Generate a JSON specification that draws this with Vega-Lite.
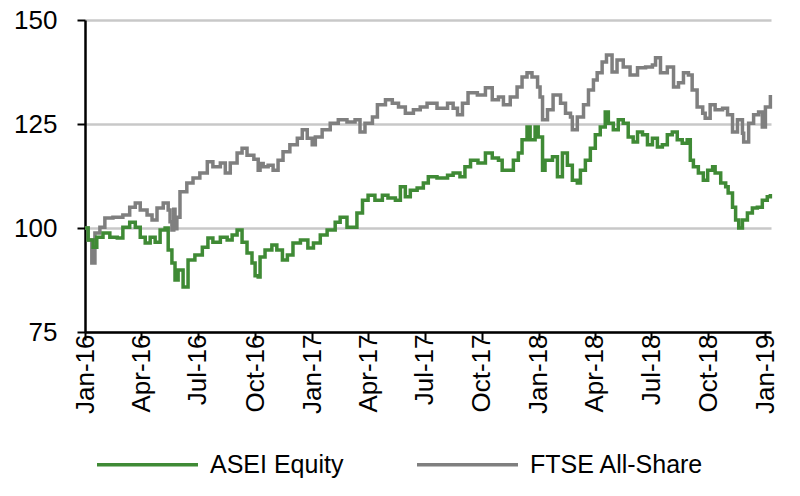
{
  "$schema": "https://vega.github.io/schema/vega-lite/v6.json",
  "width": 686,
  "height": 312,
  "autosize": {"type": "none"},
  "padding": {"left": 85, "top": 20, "right": 29, "bottom": 164},
  "background": "white",
  "config": {
    "view": {"stroke": null},
    "font": "Liberation Sans"
  },
  "datasets": {
    "ftse": [
      {"d":"2016-01-01","v":100.0},{"d":"2016-01-06","v":97.1},{"d":"2016-01-12","v":91.6},{"d":"2016-01-17","v":98.8},{"d":"2016-01-25","v":100.2},
      {"d":"2016-02-02","v":102.4},{"d":"2016-02-15","v":102.6},{"d":"2016-03-02","v":103.1},{"d":"2016-03-13","v":105.0},{"d":"2016-03-22","v":106.0},
      {"d":"2016-03-30","v":104.3},{"d":"2016-04-10","v":103.1},{"d":"2016-04-18","v":101.9},{"d":"2016-04-26","v":104.8},{"d":"2016-05-06","v":106.0},
      {"d":"2016-05-14","v":104.3},{"d":"2016-05-17","v":101.5},{"d":"2016-05-20","v":99.5},{"d":"2016-05-23","v":104.5},{"d":"2016-05-25","v":99.8},
      {"d":"2016-05-28","v":102.6},{"d":"2016-06-02","v":108.7},{"d":"2016-06-13","v":110.8},{"d":"2016-06-23","v":112.0},{"d":"2016-07-04","v":113.2},
      {"d":"2016-07-16","v":115.9},{"d":"2016-07-25","v":114.7},{"d":"2016-08-06","v":115.6},{"d":"2016-08-14","v":113.2},{"d":"2016-08-22","v":115.6},
      {"d":"2016-09-02","v":118.0},{"d":"2016-09-10","v":119.2},{"d":"2016-09-18","v":117.5},{"d":"2016-09-26","v":117.5},{"d":"2016-09-29","v":116.5},
      {"d":"2016-10-06","v":113.9},{"d":"2016-10-09","v":115.5},{"d":"2016-10-14","v":114.7},{"d":"2016-10-22","v":115.1},{"d":"2016-10-30","v":113.9},
      {"d":"2016-11-07","v":116.3},{"d":"2016-11-15","v":118.3},{"d":"2016-11-26","v":120.0},{"d":"2016-12-08","v":121.6},{"d":"2016-12-16","v":123.6},
      {"d":"2016-12-24","v":121.6},{"d":"2017-01-01","v":120.0},{"d":"2017-01-06","v":121.9},{"d":"2017-01-17","v":123.6},{"d":"2017-01-30","v":125.2},
      {"d":"2017-02-12","v":126.0},{"d":"2017-02-26","v":125.5},{"d":"2017-03-11","v":126.0},{"d":"2017-03-19","v":123.1},{"d":"2017-03-27","v":125.2},
      {"d":"2017-04-08","v":126.7},{"d":"2017-04-16","v":129.6},{"d":"2017-04-29","v":130.8},{"d":"2017-05-10","v":130.0},{"d":"2017-05-20","v":129.1},
      {"d":"2017-05-31","v":127.6},{"d":"2017-06-13","v":128.4},{"d":"2017-06-24","v":129.1},{"d":"2017-07-05","v":130.0},{"d":"2017-07-21","v":128.8},
      {"d":"2017-08-07","v":130.0},{"d":"2017-08-16","v":128.8},{"d":"2017-08-23","v":127.2},{"d":"2017-08-31","v":130.0},{"d":"2017-09-09","v":132.5},
      {"d":"2017-09-24","v":132.0},{"d":"2017-10-07","v":133.7},{"d":"2017-10-18","v":130.8},{"d":"2017-10-28","v":131.5},{"d":"2017-11-05","v":129.6},
      {"d":"2017-11-16","v":131.5},{"d":"2017-11-27","v":133.9},{"d":"2017-12-05","v":136.3},{"d":"2017-12-13","v":137.3},{"d":"2017-12-21","v":136.3},
      {"d":"2017-12-30","v":133.9},{"d":"2018-01-03","v":131.5},{"d":"2018-01-07","v":126.0},{"d":"2018-01-15","v":128.4},{"d":"2018-01-24","v":132.0},
      {"d":"2018-02-05","v":130.0},{"d":"2018-02-13","v":127.6},{"d":"2018-02-21","v":126.7},{"d":"2018-02-24","v":123.6},{"d":"2018-03-04","v":126.7},
      {"d":"2018-03-14","v":129.6},{"d":"2018-03-22","v":133.2},{"d":"2018-03-30","v":135.6},{"d":"2018-04-05","v":137.3},{"d":"2018-04-13","v":139.9},
      {"d":"2018-04-20","v":141.6},{"d":"2018-04-29","v":137.5},{"d":"2018-05-07","v":140.4},{"d":"2018-05-17","v":138.7},{"d":"2018-05-28","v":136.8},
      {"d":"2018-06-09","v":138.5},{"d":"2018-06-22","v":138.7},{"d":"2018-07-03","v":139.2},{"d":"2018-07-08","v":140.9},{"d":"2018-07-16","v":137.3},
      {"d":"2018-07-27","v":138.7},{"d":"2018-08-06","v":133.9},{"d":"2018-08-14","v":134.9},{"d":"2018-08-22","v":137.3},{"d":"2018-08-30","v":136.8},
      {"d":"2018-09-05","v":133.2},{"d":"2018-09-13","v":129.1},{"d":"2018-09-22","v":127.6},{"d":"2018-09-26","v":126.4},{"d":"2018-10-04","v":129.6},
      {"d":"2018-10-12","v":128.4},{"d":"2018-10-24","v":128.8},{"d":"2018-11-01","v":127.2},{"d":"2018-11-09","v":123.1},{"d":"2018-11-17","v":126.0},
      {"d":"2018-11-25","v":122.8},{"d":"2018-11-27","v":120.7},{"d":"2018-12-05","v":125.2},{"d":"2018-12-13","v":127.2},{"d":"2018-12-21","v":127.9},
      {"d":"2018-12-27","v":124.3},{"d":"2019-01-01","v":129.1},{"d":"2019-01-09","v":132.0}
    ],
    "asei": [
      {"d":"2016-01-01","v":100.0},{"d":"2016-01-06","v":97.1},{"d":"2016-01-14","v":95.4},{"d":"2016-01-20","v":97.8},{"d":"2016-01-30","v":98.8},
      {"d":"2016-02-10","v":97.8},{"d":"2016-02-22","v":97.6},{"d":"2016-03-02","v":100.2},{"d":"2016-03-13","v":101.4},{"d":"2016-03-22","v":100.2},
      {"d":"2016-03-30","v":97.8},{"d":"2016-04-07","v":96.4},{"d":"2016-04-15","v":97.8},{"d":"2016-04-23","v":96.6},{"d":"2016-05-01","v":99.5},
      {"d":"2016-05-09","v":100.0},{"d":"2016-05-14","v":94.7},{"d":"2016-05-20","v":91.6},{"d":"2016-05-25","v":87.5},{"d":"2016-05-30","v":89.9},
      {"d":"2016-06-07","v":85.8},{"d":"2016-06-15","v":92.3},{"d":"2016-06-26","v":93.5},{"d":"2016-07-08","v":95.4},{"d":"2016-07-17","v":97.6},
      {"d":"2016-07-25","v":96.6},{"d":"2016-08-06","v":97.8},{"d":"2016-08-17","v":97.1},{"d":"2016-08-25","v":98.3},{"d":"2016-09-02","v":99.5},
      {"d":"2016-09-10","v":96.6},{"d":"2016-09-18","v":94.0},{"d":"2016-09-26","v":91.6},{"d":"2016-10-01","v":88.5},{"d":"2016-10-06","v":88.2},
      {"d":"2016-10-09","v":93.0},{"d":"2016-10-17","v":94.7},{"d":"2016-10-28","v":95.9},{"d":"2016-11-05","v":94.7},{"d":"2016-11-14","v":92.3},
      {"d":"2016-11-22","v":93.5},{"d":"2016-12-01","v":96.4},{"d":"2016-12-13","v":97.1},{"d":"2016-12-25","v":95.2},{"d":"2017-01-03","v":96.4},
      {"d":"2017-01-14","v":98.3},{"d":"2017-01-25","v":99.5},{"d":"2017-02-07","v":101.4},{"d":"2017-02-15","v":102.6},{"d":"2017-02-26","v":100.2},
      {"d":"2017-03-08","v":100.2},{"d":"2017-03-14","v":103.6},{"d":"2017-03-23","v":106.7},{"d":"2017-04-01","v":107.9},{"d":"2017-04-12","v":106.7},
      {"d":"2017-04-24","v":107.9},{"d":"2017-05-03","v":107.2},{"d":"2017-05-15","v":106.7},{"d":"2017-05-23","v":109.9},{"d":"2017-05-31","v":107.5},
      {"d":"2017-06-08","v":109.1},{"d":"2017-06-19","v":109.6},{"d":"2017-06-29","v":110.8},{"d":"2017-07-07","v":112.3},{"d":"2017-07-21","v":112.0},
      {"d":"2017-08-07","v":112.7},{"d":"2017-08-16","v":113.2},{"d":"2017-08-27","v":112.3},{"d":"2017-09-04","v":114.7},{"d":"2017-09-13","v":116.3},
      {"d":"2017-09-25","v":115.6},{"d":"2017-10-07","v":118.0},{"d":"2017-10-18","v":116.8},{"d":"2017-10-28","v":116.3},{"d":"2017-11-03","v":113.9},
      {"d":"2017-11-13","v":113.9},{"d":"2017-11-21","v":116.3},{"d":"2017-11-29","v":118.0},{"d":"2017-12-05","v":121.2},{"d":"2017-12-13","v":124.3},
      {"d":"2017-12-18","v":121.2},{"d":"2017-12-26","v":124.3},{"d":"2017-12-31","v":121.9},{"d":"2018-01-07","v":113.9},{"d":"2018-01-11","v":116.3},
      {"d":"2018-01-23","v":117.1},{"d":"2018-01-31","v":112.3},{"d":"2018-02-08","v":118.0},{"d":"2018-02-16","v":115.1},{"d":"2018-02-24","v":111.5},
      {"d":"2018-03-04","v":110.8},{"d":"2018-03-09","v":113.9},{"d":"2018-03-17","v":116.3},{"d":"2018-03-25","v":119.2},{"d":"2018-04-02","v":122.4},
      {"d":"2018-04-10","v":124.3},{"d":"2018-04-18","v":127.9},{"d":"2018-04-23","v":125.2},{"d":"2018-05-01","v":123.6},{"d":"2018-05-09","v":126.0},
      {"d":"2018-05-17","v":125.2},{"d":"2018-05-25","v":121.9},{"d":"2018-06-02","v":120.7},{"d":"2018-06-09","v":123.1},{"d":"2018-06-17","v":122.4},
      {"d":"2018-06-25","v":120.0},{"d":"2018-07-03","v":121.6},{"d":"2018-07-11","v":119.5},{"d":"2018-07-19","v":120.0},{"d":"2018-07-27","v":122.4},
      {"d":"2018-08-04","v":123.1},{"d":"2018-08-12","v":121.2},{"d":"2018-08-20","v":120.4},{"d":"2018-08-28","v":121.2},{"d":"2018-09-02","v":116.3},
      {"d":"2018-09-07","v":114.7},{"d":"2018-09-15","v":113.2},{"d":"2018-09-23","v":111.5},{"d":"2018-09-30","v":113.9},{"d":"2018-10-08","v":114.7},
      {"d":"2018-10-12","v":113.2},{"d":"2018-10-21","v":110.8},{"d":"2018-10-29","v":109.9},{"d":"2018-11-02","v":108.4},{"d":"2018-11-09","v":105.0},
      {"d":"2018-11-14","v":101.9},{"d":"2018-11-19","v":100.0},{"d":"2018-11-25","v":101.9},{"d":"2018-12-03","v":103.6},{"d":"2018-12-11","v":104.8},
      {"d":"2018-12-19","v":105.0},{"d":"2018-12-27","v":106.7},{"d":"2019-01-04","v":107.5},{"d":"2019-01-09","v":108.2}
    ]
  },
  "layer": [
    {
      "data": {"name": "ftse"},
      "mark": {"type": "line", "strokeWidth": 3.5, "interpolate": "step-after"},
      "encoding": {
        "x": {"field": "d", "type": "temporal",
          "scale": {"type": "utc", "domain": [{"year": 2016, "month": 1, "date": 1, "utc": true}, {"year": 2019, "month": 1, "date": 10, "utc": true}], "nice": false},
          "axis": {
            "title": null,
            "values": [
              {"year": 2016, "month": 1, "date": 1, "utc": true},{"year": 2016, "month": 4, "date": 1, "utc": true},{"year": 2016, "month": 7, "date": 1, "utc": true},{"year": 2016, "month": 10, "date": 1, "utc": true},
              {"year": 2017, "month": 1, "date": 1, "utc": true},{"year": 2017, "month": 4, "date": 1, "utc": true},{"year": 2017, "month": 7, "date": 1, "utc": true},{"year": 2017, "month": 10, "date": 1, "utc": true},
              {"year": 2018, "month": 1, "date": 1, "utc": true},{"year": 2018, "month": 4, "date": 1, "utc": true},{"year": 2018, "month": 7, "date": 1, "utc": true},{"year": 2018, "month": 10, "date": 1, "utc": true},
              {"year": 2019, "month": 1, "date": 1, "utc": true}
            ],
            "format": "%b-%y",
            "grid": false,
            "domainColor": "#000000", "domainWidth": 2.5,
            "tickColor": "#000000", "tickWidth": 2, "tickSize": 8,
            "labelAngle": 270, "labelAlign": "right", "labelBaseline": "middle",
            "labelPadding": -6, "labelFontSize": 26, "labelColor": "#000000",
            "labelFont": "Liberation Sans", "labelOverlap": false, "labelFlush": false
          }
        },
        "y": {"field": "v", "type": "quantitative",
          "scale": {"domain": [75, 150], "nice": false, "zero": false},
          "axis": {
            "title": null, "values": [75, 100, 125, 150],
            "grid": true, "gridColor": "#c8c8c8", "gridWidth": 2.5,
            "domainColor": "#000000", "domainWidth": 2.5,
            "tickColor": "#000000", "tickWidth": 2, "tickSize": 8,
            "labelPadding": 20, "labelFontSize": 26, "labelColor": "#000000",
            "labelFont": "Liberation Sans"
          }
        },
        "color": {"datum": "FTSE All-Share", "type": "nominal",
          "scale": {"domain": ["ASEI Equity", "FTSE All-Share"], "range": ["#3f8a35", "#7f7f7f"]},
          "legend": {
            "title": null, "orient": "none", "legendX": 10, "legendY": 392, "direction": "horizontal",
            "symbolType": "stroke", "symbolSize": 10201, "symbolStrokeWidth": 3.5,
            "labelFontSize": 25, "labelFont": "Liberation Sans", "labelColor": "#000000",
            "labelOffset": 10, "columnPadding": 66, "labelLimit": 400
          }
        }
      }
    },
    {
      "data": {"name": "asei"},
      "mark": {"type": "line", "strokeWidth": 3.5, "interpolate": "step-after"},
      "encoding": {
        "x": {"field": "d", "type": "temporal"},
        "y": {"field": "v", "type": "quantitative"},
        "color": {"datum": "ASEI Equity", "type": "nominal"}
      }
    }
  ]
}
